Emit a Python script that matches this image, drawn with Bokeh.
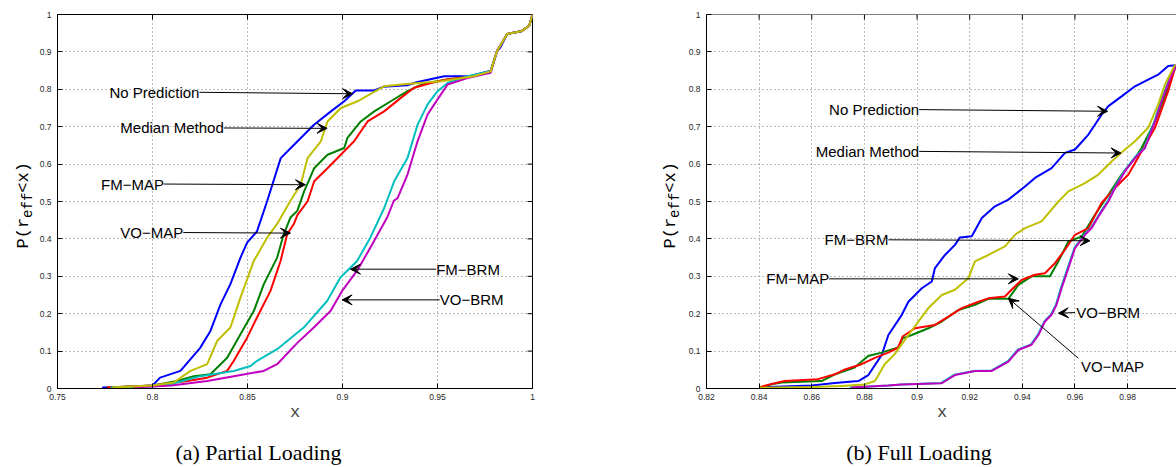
from bokeh.plotting import figure
from bokeh.models import (Range1d, FixedTicker, Arrow, VeeHead, Label, Span,
                          CustomJSTickFormatter)
from bokeh.layouts import row, column
from bokeh.embed import file_html
from bokeh.resources import INLINE

# ---------------- ticks ----------------
y_ticks = [0, 0.1, 0.2, 0.3, 0.4, 0.5, 0.6, 0.7, 0.8, 0.9, 1]
y_tick_labels = ["0", "0.1", "0.2", "0.3", "0.4", "0.5", "0.6", "0.7", "0.8", "0.9", "1"]
a_x_ticks = [0.75, 0.8, 0.85, 0.9, 0.95, 1]
a_x_tick_labels = ["0.75", "0.8", "0.85", "0.9", "0.95", "1"]
b_x_ticks = [0.82, 0.84, 0.86, 0.88, 0.9, 0.92, 0.94, 0.96, 0.98, 1]
b_x_tick_labels = ["0.82", "0.84", "0.86", "0.88", "0.9", "0.92", "0.94", "0.96", "0.98", "1"]

# ---------------- (a) Partial Loading ----------------
a_np_x = [0.7735, 0.79, 0.80, 0.804, 0.8147, 0.825, 0.8305, 0.8358, 0.841, 0.8463, 0.8498, 0.855, 0.8604,
          0.8675, 0.8728, 0.885, 0.8939, 0.9009, 0.907, 0.9167, 0.9217, 0.934, 0.939, 0.9535, 0.967,
          0.978, 0.9814, 0.983, 0.9867, 0.994, 0.9983, 1.0]
a_np_y = [0.003, 0.005, 0.008, 0.029, 0.047, 0.108, 0.154, 0.225, 0.279, 0.35, 0.39, 0.42, 0.502,
          0.616, 0.643, 0.705, 0.741, 0.768, 0.797, 0.797, 0.807, 0.811, 0.819, 0.835, 0.835,
          0.85, 0.903, 0.911, 0.948, 0.955, 0.97, 1.0]

a_med_x = [0.7788, 0.80, 0.8112, 0.82, 0.8288, 0.834, 0.841, 0.8463, 0.8533, 0.8604, 0.8656, 0.8726,
           0.878, 0.8816, 0.8886, 0.8921, 0.8991, 0.9079, 0.9167, 0.9219, 0.935, 0.9518, 0.969, 0.978,
           0.9814, 0.9867, 0.994, 0.9983, 1.0]
a_med_y = [0.003, 0.008, 0.016, 0.047, 0.065, 0.127, 0.163, 0.243, 0.341, 0.404, 0.44, 0.502,
           0.545, 0.616, 0.661, 0.714, 0.75, 0.768, 0.793, 0.808, 0.815, 0.8215, 0.835, 0.848,
           0.903, 0.948, 0.955, 0.97, 1.0]

a_fmmap_x = [0.776, 0.80, 0.813, 0.8217, 0.8305, 0.8393, 0.8463, 0.8533, 0.8586, 0.8656, 0.8691, 0.8726,
             0.8762, 0.8798, 0.8851, 0.8921, 0.9009, 0.9026, 0.9096, 0.9167, 0.9254, 0.9342, 0.9395,
             0.9447, 0.955, 0.969, 0.978, 0.9814, 0.9867, 0.994, 0.9983, 1.0]
a_fmmap_y = [0.003, 0.008, 0.02, 0.033, 0.038, 0.082, 0.145, 0.207, 0.279, 0.35, 0.413, 0.457,
             0.475, 0.527, 0.589, 0.625, 0.643, 0.67, 0.714, 0.741, 0.768, 0.795, 0.808,
             0.817, 0.826, 0.835, 0.848, 0.903, 0.948, 0.955, 0.97, 1.0]

a_vomap_x = [0.776, 0.80, 0.8183, 0.8288, 0.8393, 0.8428, 0.8498, 0.855, 0.8621, 0.8674, 0.8709, 0.8744,
             0.8763, 0.8816, 0.8851, 0.8921, 0.8991, 0.9061, 0.9132, 0.9219, 0.9307, 0.9377, 0.9465,
             0.955, 0.969, 0.978, 0.9814, 0.9867, 0.994, 0.9983, 1.0]
a_vomap_y = [0.003, 0.008, 0.02, 0.029, 0.047, 0.074, 0.136, 0.19, 0.261, 0.341, 0.413, 0.44,
             0.4645, 0.5, 0.554, 0.589, 0.625, 0.661, 0.714, 0.741, 0.777, 0.804, 0.817,
             0.826, 0.835, 0.848, 0.903, 0.948, 0.955, 0.97, 1.0]

a_fmbrm_x = [0.778, 0.80, 0.81, 0.8253, 0.8428, 0.8516, 0.855, 0.8656, 0.8796, 0.8919, 0.8989, 0.9077,
             0.9147, 0.9219, 0.9272, 0.9342, 0.9395, 0.9447, 0.95, 0.9553, 0.9658, 0.978, 0.9814,
             0.9867, 0.994, 0.9983, 1.0]
a_fmbrm_y = [0.003, 0.006, 0.012, 0.033, 0.047, 0.06, 0.074, 0.105, 0.163, 0.234, 0.297, 0.341,
             0.404, 0.482, 0.554, 0.616, 0.705, 0.759, 0.795, 0.817, 0.835, 0.848, 0.903,
             0.948, 0.955, 0.97, 1.0]

a_vobrm_x = [0.79, 0.81, 0.8288, 0.8428, 0.8586, 0.8656, 0.8762, 0.8849, 0.8937, 0.8998, 0.9077, 0.9147,
             0.9235, 0.927, 0.929, 0.9342, 0.9395, 0.9447, 0.9482, 0.9553, 0.9658, 0.978, 0.9814,
             0.9867, 0.994, 0.9983, 1.0]
a_vobrm_y = [0.003, 0.008, 0.02, 0.033, 0.047, 0.065, 0.122, 0.163, 0.207, 0.261, 0.315, 0.377,
             0.457, 0.502, 0.509, 0.572, 0.661, 0.732, 0.759, 0.813, 0.83, 0.844, 0.903,
             0.948, 0.955, 0.97, 1.0]

# ---------------- (b) Full Loading ----------------
b_np_x = [0.84, 0.86, 0.8688, 0.8777, 0.8815, 0.8866, 0.8891, 0.8942, 0.8967, 0.9018, 0.9056, 0.9068,
          0.9106, 0.9144, 0.9163, 0.9208, 0.9246, 0.9296, 0.9347, 0.941, 0.9448, 0.9511, 0.9562, 0.96,
          0.9651, 0.9701, 0.9727, 0.9777, 0.9828, 0.9878, 0.9916, 0.9954, 0.998]
b_np_y = [0.003, 0.008, 0.015, 0.02, 0.036, 0.09, 0.143, 0.197, 0.232, 0.268, 0.286, 0.322,
          0.357, 0.384, 0.404, 0.407, 0.456, 0.487, 0.505, 0.54, 0.563, 0.589, 0.63, 0.639,
          0.679, 0.732, 0.755, 0.781, 0.808, 0.826, 0.839, 0.862, 0.864]

b_med_x = [0.84, 0.86, 0.8713, 0.8801, 0.884, 0.8877, 0.8915, 0.8967, 0.9005, 0.9043, 0.9094, 0.9144,
           0.9195, 0.922, 0.9271, 0.9334, 0.9372, 0.941, 0.9473, 0.9537, 0.9575, 0.9638, 0.9689,
           0.9739, 0.979, 0.9828, 0.9878, 0.9916, 0.9942, 0.998]
b_med_y = [0.002, 0.004, 0.007, 0.011, 0.02, 0.065, 0.092, 0.143, 0.179, 0.215, 0.25, 0.264,
           0.295, 0.34, 0.357, 0.38, 0.411, 0.429, 0.447, 0.5, 0.527, 0.549, 0.572,
           0.607, 0.639, 0.661, 0.697, 0.759, 0.813, 0.866]

b_fmmap_x = [0.84, 0.8447, 0.8485, 0.8637, 0.8688, 0.8763, 0.8814, 0.8865, 0.8928, 0.8945, 0.898, 0.9043,
             0.9094, 0.9157, 0.922, 0.9271, 0.9347, 0.9385, 0.9435, 0.9505, 0.9537, 0.9575, 0.9625,
             0.9676, 0.9727, 0.9777, 0.9828, 0.9853, 0.9904, 0.9954, 0.998]
b_fmmap_y = [0.003, 0.011, 0.016, 0.02, 0.038, 0.056, 0.087, 0.096, 0.11, 0.134, 0.143, 0.161,
             0.179, 0.21, 0.224, 0.24, 0.24, 0.277, 0.3, 0.3, 0.34, 0.393, 0.406,
             0.4645, 0.518, 0.572, 0.616, 0.643, 0.714, 0.804, 0.857]

b_vomap_x = [0.84, 0.8447, 0.8497, 0.8624, 0.8688, 0.8726, 0.8789, 0.884, 0.889, 0.8928, 0.8945, 0.8992,
             0.9068, 0.9119, 0.917, 0.9233, 0.9271, 0.9334, 0.9359, 0.9397, 0.9448, 0.9486, 0.9524,
             0.9562, 0.96, 0.9651, 0.9701, 0.9752, 0.9803, 0.9853, 0.9904, 0.9954, 0.998]
b_vomap_y = [0.003, 0.012, 0.02, 0.025, 0.038, 0.051, 0.065, 0.082, 0.096, 0.109, 0.139, 0.161,
             0.17, 0.192, 0.215, 0.232, 0.241, 0.246, 0.264, 0.29, 0.304, 0.308, 0.335,
             0.371, 0.411, 0.429, 0.496, 0.536, 0.572, 0.634, 0.697, 0.795, 0.857]

b_fmbrm_x = [0.8744, 0.889, 0.894, 0.9092, 0.9142, 0.9218, 0.9282, 0.9345, 0.9383, 0.9433, 0.9459, 0.9484,
             0.9509, 0.9528, 0.9547, 0.9573, 0.9598, 0.9636, 0.9661, 0.9699, 0.9725, 0.975, 0.9788,
             0.9826, 0.9864, 0.9902, 0.9927, 0.9965, 0.9985]
b_fmbrm_y = [0.003, 0.008, 0.011, 0.015, 0.037, 0.047, 0.048, 0.073, 0.104, 0.118, 0.144, 0.18,
             0.198, 0.225, 0.27, 0.324, 0.376, 0.412, 0.43, 0.474, 0.502, 0.537, 0.582,
             0.617, 0.644, 0.715, 0.769, 0.84, 0.866]

b_vobrm_x = [0.875, 0.8891, 0.8941, 0.9094, 0.9144, 0.922, 0.9284, 0.9347, 0.9385, 0.9435, 0.9461, 0.9486,
             0.9511, 0.953, 0.9549, 0.9575, 0.96, 0.9638, 0.9663, 0.9701, 0.9727, 0.9752, 0.979,
             0.9828, 0.9866, 0.9904, 0.9929, 0.9967, 0.9986]
b_vobrm_y = [0.003, 0.008, 0.011, 0.014, 0.036, 0.047, 0.047, 0.072, 0.103, 0.117, 0.143, 0.179,
             0.197, 0.224, 0.268, 0.322, 0.375, 0.411, 0.429, 0.473, 0.5, 0.536, 0.581,
             0.616, 0.643, 0.714, 0.768, 0.839, 0.866]

# ---------------- styles / layout ----------------
COLORS = {"np": "#0000FF", "med": "#BFBF00", "fmmap": "#008000", "vomap": "#FF0000",
          "fmbrm": "#00BFBF", "vobrm": "#BF00BF"}
DRAW_ORDER = ["np", "fmmap", "vomap", "fmbrm", "vobrm", "med"]

A_SERIES = {"np": (a_np_x, a_np_y), "med": (a_med_x, a_med_y), "fmmap": (a_fmmap_x, a_fmmap_y),
            "vomap": (a_vomap_x, a_vomap_y), "fmbrm": (a_fmbrm_x, a_fmbrm_y), "vobrm": (a_vobrm_x, a_vobrm_y)}
B_SERIES = {"np": (b_np_x, b_np_y), "med": (b_med_x, b_med_y), "fmmap": (b_fmmap_x, b_fmmap_y),
            "vomap": (b_vomap_x, b_vomap_y), "fmbrm": (b_fmbrm_x, b_fmbrm_y), "vobrm": (b_vobrm_x, b_vobrm_y)}

# annotation callouts: (text, text x, text y, align, arrow start x, y, arrow tip x, y)
A_NOTES = [
    ("No Prediction", 0.8247, 0.792, "right", 0.8247, 0.792, 0.9053, 0.788),
    ("Median Method", 0.8375, 0.6966, "right", 0.8375, 0.6966, 0.8919, 0.6956),
    ("FM\u2212MAP", 0.806, 0.5467, "right", 0.806, 0.5467, 0.8805, 0.5448),
    ("VO\u2212MAP", 0.8162, 0.417, "right", 0.8162, 0.417, 0.8726, 0.4155),
    ("FM\u2212BRM", 0.9493, 0.319, "left", 0.9493, 0.319, 0.9042, 0.319),
    ("VO\u2212BRM", 0.9512, 0.237, "left", 0.9512, 0.237, 0.8998, 0.237),
]
B_NOTES = [
    ("No Prediction", 0.9008, 0.7457, "right", 0.9008, 0.7457, 0.9724, 0.7412),
    ("Median Method", 0.9008, 0.634, "right", 0.9008, 0.634, 0.9775, 0.6296),
    ("FM\u2212BRM", 0.8891, 0.3976, "right", 0.8891, 0.3976, 0.9657, 0.395),
    ("FM\u2212MAP", 0.8666, 0.2932, "right", 0.8666, 0.2932, 0.9385, 0.2932),
    ("VO\u2212BRM", 0.9605, 0.203, "left", 0.9600, 0.203, 0.9537, 0.2013),
    ("VO\u2212MAP", 0.9623, 0.0585, "left", 0.9613, 0.0808, 0.9347, 0.2414),
]

SANS = "Liberation Sans"
MONO = "'Courier New', Courier, 'Nimbus Mono PS', FreeMono, 'Liberation Mono', monospace"
SERIF = "Liberation Serif"
MAIN_H = 440
CAP_H = 27
TOP = 14
FRAME_H = 374
TICK_LEN = 5


def tick_formatter(tick_values, tick_texts):
    return CustomJSTickFormatter(args=dict(tv=tick_values, tl=tick_texts), code="""
        for (let i = 0; i < tv.length; i++) {
            if (Math.abs(tv[i] - tick) < 1e-9) return tl[i];
        }
        return '';
    """)


def style_axis(ax, ticks, labels, standoff):
    ax.ticker = FixedTicker(ticks=ticks)
    ax.formatter = tick_formatter(ticks, labels)
    ax.major_tick_in = TICK_LEN
    ax.major_tick_out = 0
    ax.minor_tick_line_color = None
    ax.axis_line_color = "black"
    ax.major_tick_line_color = "black"
    ax.axis_line_width = 1
    ax.major_label_text_font = SANS
    ax.major_label_text_color = "#262626"
    ax.major_label_text_font_size = "8.5px"
    ax.major_label_standoff = standoff


def blank_fig(width, height):
    return figure(width=width, height=height, x_range=Range1d(0, 1), y_range=Range1d(0, 1),
                  output_backend="svg", toolbar_location=None, x_axis_type=None, y_axis_type=None,
                  min_border=0, outline_line_color=None)


def make_ylabel_fig(width, base_x):
    """Narrow strip holding the rotated label P(r_eff<x) (canvas pixel positions)."""
    f = blank_fig(width, MAIN_H)
    pieces = [("P(r", 0, 232.7, "17px"), ("eff", 4, 204.8, "14px"), ("<x)", 0, 176.9, "17px")]
    for txt, dx, cy, size in pieces:
        f.add_layout(Label(x=base_x + dx, y=cy, x_units="canvas", y_units="canvas", text=txt,
                           angle=90, angle_units="deg", text_align="center",
                           text_baseline="alphabetic", text_font=MONO, text_font_size=size,
                           text_color="black"))
    return f


def make_caption_fig(width, cx, text):
    f = blank_fig(width, CAP_H)
    f.add_layout(Label(x=cx, y=12, x_units="canvas", y_units="canvas", text=text,
                       text_align="center", text_baseline="alphabetic",
                       text_font=SERIF, text_font_size="22px", text_color="black"))
    return f


def make_panel(xr, ticks, tick_labels, series, notes, width, frame_w, mb_left, mb_right, right_edge):
    p = figure(width=width, height=MAIN_H, frame_width=frame_w, frame_height=FRAME_H,
               x_range=Range1d(*xr), y_range=Range1d(0, 1),
               output_backend="svg", toolbar_location=None,
               min_border_left=mb_left, min_border_right=mb_right,
               min_border_top=TOP, min_border_bottom=MAIN_H - TOP - FRAME_H,
               background_fill_color="white", border_fill_color="white")
    p.outline_line_color = "black" if right_edge else None
    style_axis(p.xaxis[0], ticks, tick_labels, 5)
    style_axis(p.yaxis[0], y_ticks, y_tick_labels, 6)
    p.xaxis[0].axis_label = "x"
    p.xaxis[0].axis_label_text_font = MONO
    p.xaxis[0].axis_label_text_font_size = "17px"
    p.xaxis[0].axis_label_text_font_style = "normal"
    p.xaxis[0].axis_label_standoff = 0
    for g in (p.xgrid[0], p.ygrid[0]):
        g.grid_line_color = "#777777"
        g.grid_line_dash = "1 3"
        g.grid_line_width = 1
    p.xgrid[0].ticker = FixedTicker(ticks=ticks)
    p.ygrid[0].ticker = FixedTicker(ticks=y_ticks)

    # top edge + inward ticks on top (and right) edges, derived from the tick lists
    x0, x1 = xr
    if not right_edge:
        p.add_layout(Span(location=1, dimension="width", line_color="black", line_width=1))
    dy = TICK_LEN / FRAME_H
    xt = [t for t in ticks if x0 <= t <= x1]
    p.segment(x0=xt, y0=[1] * len(xt), x1=xt, y1=[1 - dy] * len(xt), line_color="black", line_width=1)
    if right_edge:
        dx = TICK_LEN * (x1 - x0) / frame_w
        p.segment(x0=[x1] * len(y_ticks), y0=y_ticks, x1=[x1 - dx] * len(y_ticks), y1=y_ticks,
                  line_color="black", line_width=1)

    for key in DRAW_ORDER:
        xs, ys = series[key]
        p.line(xs, ys, line_color=COLORS[key], line_width=2)

    for (txt, tx, ty, align, sx, sy, ex, ey) in notes:
        p.add_layout(Arrow(x_start=sx, y_start=sy, x_end=ex, y_end=ey, line_color="black",
                           line_width=1,
                           end=VeeHead(size=10, fill_color="black", line_color="black", line_width=1)))
        p.add_layout(Label(x=tx, y=ty, text=txt, text_align=align, text_baseline="middle",
                           text_font=SANS, text_font_size="15px", text_color="black"))
    return p


ya = make_ylabel_fig(34, 23)
pa = make_panel((0.75, 1.0), a_x_ticks, a_x_tick_labels, A_SERIES, A_NOTES,
                width=534, frame_w=475, mb_left=23, mb_right=36, right_edge=True)
yb = make_ylabel_fig(117, 102)
pb = make_panel((0.82, 0.82 + 471 / 2632.0), b_x_ticks, b_x_tick_labels, B_SERIES, B_NOTES,
                width=491, frame_w=471, mb_left=20, mb_right=0, right_edge=False)

cap_a = make_caption_fig(588, 258, "(a) Partial Loading")
cap_b = make_caption_fig(588, 918.5 - 588, "(b) Full Loading")

layout = column(row(ya, pa, yb, pb), row(cap_a, cap_b))
open("out.html", "w").write(file_html(layout, INLINE))
